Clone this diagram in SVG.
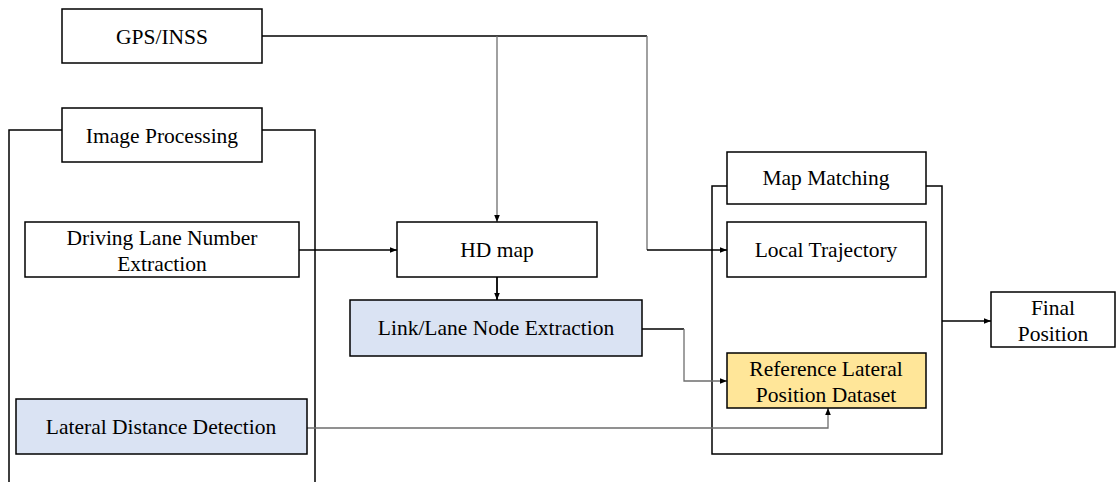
<svg xmlns="http://www.w3.org/2000/svg" width="1116" height="482" viewBox="0 0 1116 482">
  <style>
    .box { fill: #ffffff; stroke: #000000; stroke-width: 1.5; }
    .blue { fill: #dae3f3; }
    .gold { fill: #ffe699; }
    .frame { fill: none; stroke: #000000; stroke-width: 1.5; }
    .wire { fill: none; stroke: #000000; stroke-width: 1.3; }
    .wire.grey { stroke: #6e6e6e; }
    text { font-family: "Liberation Serif", "Times New Roman", serif; font-size: 21.5px; fill: #000000; text-anchor: middle; }
  </style>
  <defs>
    <marker id="arrow" viewBox="0 0 10 10" refX="10" refY="5" markerWidth="7" markerHeight="7" orient="auto" markerUnits="userSpaceOnUse">
      <path d="M0,1 L10,5 L0,9 Z" fill="#000000"/>
    </marker>
  </defs>
  <rect width="1116" height="482" fill="#ffffff"/>

  <!-- group frames -->
  <g id="image-processing-frame">
    <path class="frame" d="M9,482 V130 H62 M262,130 H315 V482"/>
  </g>
  <g id="map-matching-frame">
    <path class="frame" d="M727,186 H712 V454 H942 V186 H926"/>
  </g>

  <!-- connectors -->
  <g id="connectors">
    <path class="wire" d="M262,36 H647"/>
    <path class="wire grey" d="M497,36 V222" marker-end="url(#arrow)"/>
    <path class="wire grey" d="M647,36 V250"/>
    <path class="wire" d="M647,250 H727" marker-end="url(#arrow)"/>
    <path class="wire" d="M299,250 H397" marker-end="url(#arrow)"/>
    <path class="wire" d="M497,277 V300" marker-end="url(#arrow)" style="stroke-width:1.8"/>
    <path class="wire" d="M642,329 H684"/>
    <path class="wire grey" d="M684,329 V381 H727" marker-end="url(#arrow)"/>
    <path class="wire grey" d="M307,428 H828 V408" marker-end="url(#arrow)"/>
    <path class="wire" d="M942,321 H991" marker-end="url(#arrow)"/>
  </g>

  <!-- nodes -->
  <g id="gps-inss">
    <rect class="box" x="62" y="9" width="200" height="54"/>
    <text x="162" y="44">GPS/INSS</text>
  </g>
  <g id="image-processing">
    <rect class="box" x="62" y="108" width="200" height="54"/>
    <text x="162" y="143">Image Processing</text>
  </g>
  <g id="driving-lane-number-extraction">
    <rect class="box" x="25" y="222" width="274" height="55"/>
    <text x="162" y="245">Driving Lane Number</text>
    <text x="162" y="271">Extraction</text>
  </g>
  <g id="lateral-distance-detection">
    <rect class="box blue" x="16" y="399" width="291" height="55"/>
    <text x="161" y="434">Lateral Distance Detection</text>
  </g>
  <g id="hd-map">
    <rect class="box" x="397" y="222" width="200" height="55"/>
    <text x="497" y="257">HD map</text>
  </g>
  <g id="link-lane-node-extraction">
    <rect class="box blue" x="350" y="300" width="292" height="56"/>
    <text x="496" y="335">Link/Lane Node Extraction</text>
  </g>
  <g id="map-matching">
    <rect class="box" x="727" y="152" width="199" height="52"/>
    <text x="826" y="185">Map Matching</text>
  </g>
  <g id="local-trajectory">
    <rect class="box" x="727" y="222" width="199" height="55"/>
    <text x="826" y="257">Local Trajectory</text>
  </g>
  <g id="reference-lateral-position-dataset">
    <rect class="box gold" x="727" y="353" width="199" height="55"/>
    <text x="826" y="376">Reference Lateral</text>
    <text x="826" y="402">Position Dataset</text>
  </g>
  <g id="final-position">
    <rect class="box" x="991" y="292" width="124" height="55"/>
    <text x="1053" y="315">Final</text>
    <text x="1053" y="341">Position</text>
  </g>
</svg>
